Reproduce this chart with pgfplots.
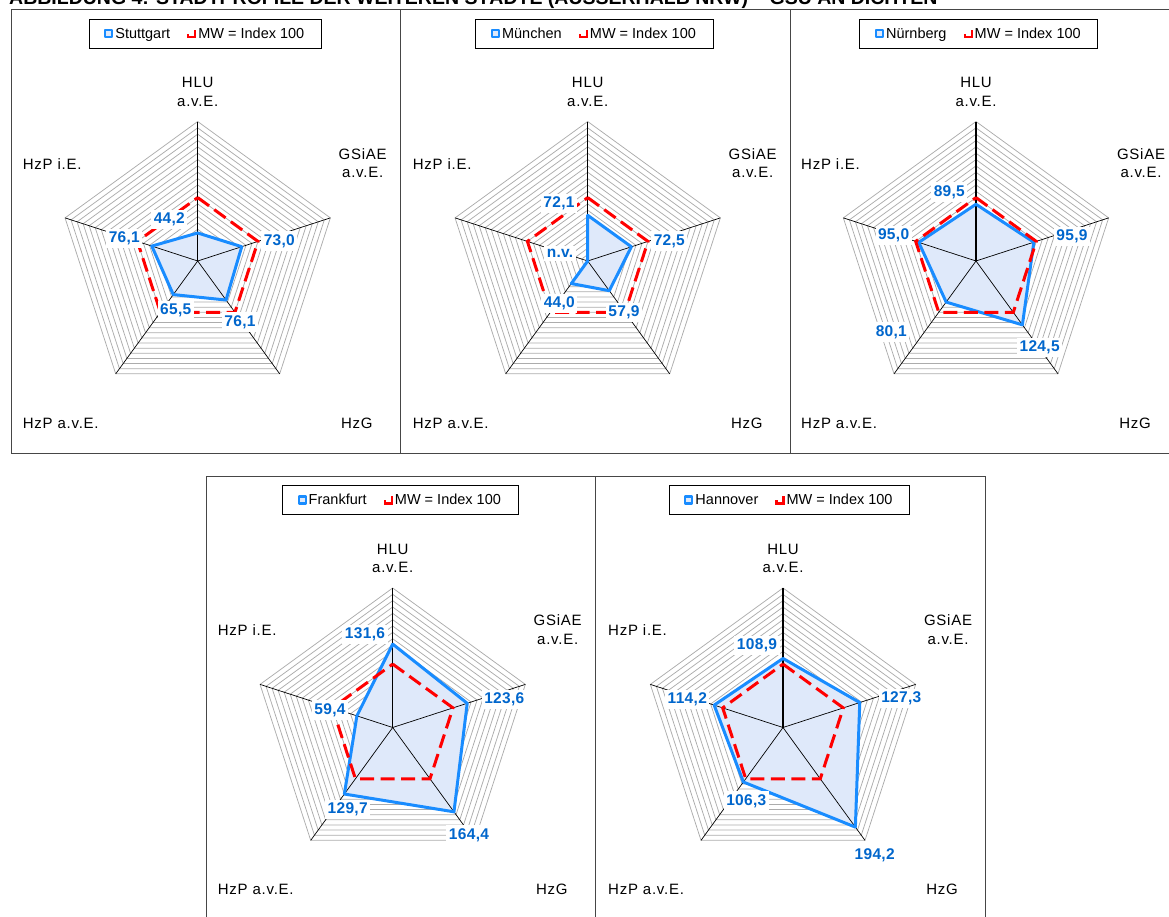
\documentclass[border=0pt]{standalone}
\usepackage{fontspec}
\setmainfont{Liberation Sans}
\usepackage{pgfplots}
\usepackage{pgfplotstable}
\pgfplotsset{compat=1.18}

\definecolor{cblue}{RGB}{25,140,255}
\definecolor{cfill}{RGB}{223,233,250}
\definecolor{clab}{RGB}{0,102,204}
\definecolor{cred}{RGB}{255,0,0}
\definecolor{cgrid}{RGB}{172,172,172}
\definecolor{cframe}{RGB}{70,70,70}

% angle value (HLU, GSiAE, HzG, HzP a.v.E., HzP i.E., back to HLU)
\pgfplotstableread{
a v
90 44.2
18 73.0
-54 76.1
-126 65.5
162 76.1
90 44.2
}\stuttgart
\pgfplotstableread{
a v
90 72.1
18 72.5
-54 57.9
-126 44.0
162 0
90 72.1
}\muenchen
\pgfplotstableread{
a v
90 89.5
18 95.9
-54 124.5
-126 80.1
162 95.0
90 89.5
}\nuernberg
\pgfplotstableread{
a v
90 131.6
18 123.6
-54 164.4
-126 129.7
162 59.4
90 131.6
}\frankfurt
\pgfplotstableread{
a v
90 108.9
18 127.3
-54 194.2
-126 106.3
162 114.2
90 108.9
}\hannover
\pgfplotstableread{
a v
90 100
18 100
-54 100
-126 100
162 100
90 100
}\mw

\tikzset{
  vlab/.style={font=\bfseries\fontsize{15.5}{17}\selectfont\addfontfeatures{LetterSpace=2}, text=clab, fill=white,
    inner xsep=2.5pt, inner ysep=3pt},
  axname/.style={font=\fontsize{15}{18.5}\selectfont\addfontfeatures{LetterSpace=5}, align=center, inner sep=0pt},
}

\pgfplotsset{
  radar/.style={
    x=0.634pt, y=0.634pt,
    xmin=-220, xmax=220, ymin=-220, ymax=220,
    hide axis, clip=false, anchor=center,
    data cs=polar,
    legend columns=-1,
    legend style={anchor=north, draw=black, line width=0.8pt,
      font=\fontsize{14.5}{17}\selectfont,
      inner xsep=15pt, inner ysep=6.5pt,
      /tikz/every even column/.append style={column sep=15pt}},
  },
  gridline/.style={cgrid, line width=0.75pt, forget plot, mark=none},
  cityfill/.style={fill=cfill, draw=none, forget plot, mark=none},
  cityline/.style={cblue, line width=3pt, line join=round, line cap=round, mark=none,
    legend image code/.code={\draw[cblue, solid, line width=2.2pt, fill=cfill] (0pt,-3.5pt) rectangle (7pt,3.5pt);}},
  mwline/.style={cred, line width=3pt, dash pattern=on 14pt off 6.5pt, mark=none,
    legend image code/.code={\draw[cred, solid, line width=2.2pt] (0pt,-0.5pt) -- (0pt,-3.5pt) -- (7pt,-3.5pt) -- (7pt,3.5pt);}},
}

\newcommand\radargrid{%
  \pgfplotsinvokeforeach{10,20,...,220}{%
    \addplot[gridline] coordinates {(90,##1) (18,##1) (-54,##1) (-126,##1) (162,##1) (90,##1)};%
  }%
}
\newcommand\radarspokes{%
  \addplot[black, line width=1.3pt, forget plot] coordinates {(0,0) (90,220)};
  \addplot[black, line width=0.7pt, forget plot] coordinates {(0,0) (18,220)};
  \addplot[black, line width=0.7pt, forget plot] coordinates {(0,0) (-54,220)};
  \addplot[black, line width=0.7pt, forget plot] coordinates {(0,0) (-126,220)};
  \addplot[black, line width=0.7pt, forget plot] coordinates {(0,0) (162,220)};
}
\newcommand\radarnames{%
  \node[axname] at ([yshift=169pt]axis cs:0,0) {HLU\\a.v.E.};
  \node[axname] at ([xshift=165pt,yshift=98pt]axis cs:0,0) {GSiAE\\a.v.E.};
  \node[axname, anchor=west] at ([xshift=-175pt,yshift=97pt]axis cs:0,0) {HzP i.E.};
  \node[axname, anchor=west] at ([xshift=-175pt,yshift=-162pt]axis cs:0,0) {HzP a.v.E.};
  \node[axname, anchor=east] at ([xshift=175pt,yshift=-162pt]axis cs:0,0) {HzG};
}
% #1 table, #2 city name
\newcommand\radarseries[2]{%
  \addplot[cityfill] table[x=a, y=v] {#1};
  \radarspokes
  \addplot[cityline] table[x=a, y=v] {#1};
  \addlegendentry{#2}
  \addplot[mwline] table[x=a, y=v] {\mw};
  \addlegendentry{MW = Index 100}
  \radarnames
}

\begin{document}
\begin{tikzpicture}
\useasboundingbox (0,0) rectangle (1169pt,916pt);
\clip (0,0) rectangle (1169pt,916pt);

% title, cut off at the top edge
\node[anchor=base west, inner sep=0pt, font=\bfseries\fontsize{19.5}{21}\selectfont]
  at (9pt,911.3pt) {ABBILDUNG 4: STADTPROFILE DER WEITEREN STÄDTE (AUSSERHALB NRW) – GSU AN DICHTEN};

% panel frames
\draw[cframe, line width=0.8pt] (11pt,906.5pt) rectangle (400pt,463pt);
\draw[cframe, line width=0.8pt] (400pt,906.5pt) rectangle (790pt,463pt);
\draw[cframe, line width=0.8pt] (790pt,906.5pt) rectangle (1185pt,463pt);
\draw[cframe, line width=0.8pt] (206pt,440pt) rectangle (595pt,-20pt);
\draw[cframe, line width=0.8pt] (595pt,440pt) rectangle (985pt,-20pt);

% Stuttgart
\begin{axis}[radar, at={(197.7pt,655pt)},
  legend style={at={(axis description cs:0.527,1.368)}}]
\radargrid
\radarseries{\stuttgart}{Stuttgart}
\node[vlab] at ([xshift=-28.4pt,yshift=41.4pt]axis cs:0,0) {44,2};
\node[vlab] at ([xshift=81.6pt,yshift=20pt]axis cs:0,0) {73,0};
\node[vlab] at ([xshift=42.3pt,yshift=-61pt]axis cs:0,0) {76,1};
\node[vlab] at ([xshift=-22pt,yshift=-49.3pt]axis cs:0,0) {65,5};
\node[vlab] at ([xshift=-73.4pt,yshift=22.4pt]axis cs:0,0) {76,1};
\end{axis}

% Muenchen
\begin{axis}[radar, at={(587.7pt,655pt)},
  legend style={at={(axis description cs:0.524,1.368)}}]
\radargrid
\radarseries{\muenchen}{München}
\node[vlab] at ([xshift=-28.7pt,yshift=57.4pt]axis cs:0,0) {72,1};
\node[vlab] at ([xshift=81.6pt,yshift=20pt]axis cs:0,0) {72,5};
\node[vlab] at ([xshift=36.3pt,yshift=-51.3pt]axis cs:0,0) {57,9};
\node[vlab] at ([xshift=-28.4pt,yshift=-42.6pt]axis cs:0,0) {44,0};
\node[vlab] at ([xshift=-27.7pt,yshift=7.4pt]axis cs:0,0) {n.v.};
\end{axis}

% Nuernberg
\begin{axis}[radar, at={(976pt,655pt)},
  legend style={at={(axis description cs:0.51,1.368)}}]
\radargrid
\radarseries{\nuernberg}{Nürnberg}
\node[vlab] at ([xshift=-26.7pt,yshift=69pt]axis cs:0,0) {89,5};
\node[vlab] at ([xshift=96pt,yshift=24.7pt]axis cs:0,0) {95,9};
\node[vlab] at ([xshift=63.6pt,yshift=-86.6pt]axis cs:0,0) {124,5};
\node[vlab] at ([xshift=-84.7pt,yshift=-71pt]axis cs:0,0) {80,1};
\node[vlab] at ([xshift=-82.4pt,yshift=25.7pt]axis cs:0,0) {95,0};
\end{axis}

% Frankfurt
\begin{axis}[radar, at={(392.7pt,188.5pt)},
  legend style={at={(axis description cs:0.527,1.369)}}]
\radargrid
\radarseries{\frankfurt}{Frankfurt}
\node[vlab] at ([xshift=-27.7pt,yshift=93.3pt]axis cs:0,0) {131,6};
\node[vlab] at ([xshift=111.6pt,yshift=28.3pt]axis cs:0,0) {123,6};
\node[vlab] at ([xshift=76.3pt,yshift=-107.4pt]axis cs:0,0) {164,4};
\node[vlab] at ([xshift=-45pt,yshift=-81.7pt]axis cs:0,0) {129,7};
\node[vlab] at ([xshift=-62.7pt,yshift=17.6pt]axis cs:0,0) {59,4};
\end{axis}

% Hannover
\begin{axis}[radar, at={(783pt,188.5pt)},
  legend style={at={(axis description cs:0.523,1.369)}}]
\radargrid
\radarseries{\hannover}{Hannover}
\node[vlab] at ([xshift=-26pt,yshift=82.3pt]axis cs:0,0) {108,9};
\node[vlab] at ([xshift=118.3pt,yshift=29.3pt]axis cs:0,0) {127,3};
\node[vlab] at ([xshift=91.7pt,yshift=-127.3pt]axis cs:0,0) {194,2};
\node[vlab] at ([xshift=-36.7pt,yshift=-73.3pt]axis cs:0,0) {106,3};
\node[vlab] at ([xshift=-95.7pt,yshift=28.3pt]axis cs:0,0) {114,2};
\end{axis}
\end{tikzpicture}
\end{document}
